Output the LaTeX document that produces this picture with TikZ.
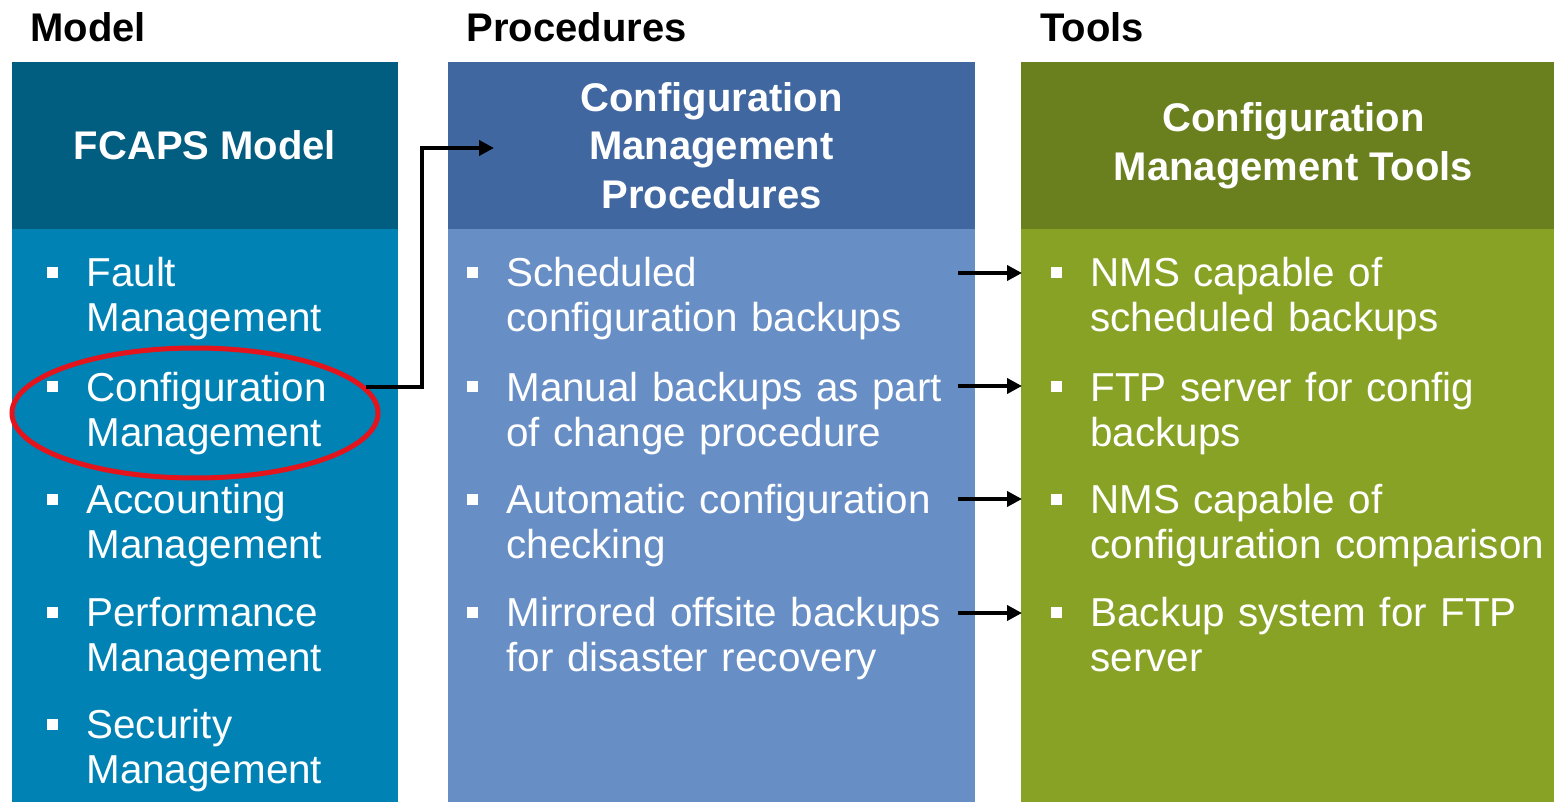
\documentclass[tikz,border=0pt]{standalone}
\usepackage{fontspec}
\setmainfont{Liberation Sans}
\usetikzlibrary{arrows.meta,shapes.geometric}
\definecolor{cOneH}{HTML}{025E80}
\definecolor{cOneB}{HTML}{0082B5}
\definecolor{cTwoH}{HTML}{4167A1}
\definecolor{cTwoB}{HTML}{688EC6}
\definecolor{cThrH}{HTML}{6A801E}
\definecolor{cThrB}{HTML}{88A226}
\definecolor{hlred}{HTML}{E3141C}
\begin{document}
\begin{tikzpicture}[x=0.5pt,y=-0.5pt,
  panel/.style={inner sep=0, outer sep=0, anchor=north west},
  hdr/.style={inner sep=0, outer sep=0, text=white, font=\bfseries\fontsize{20}{24.25}\selectfont, align=center},
  item/.style={anchor=base west, inner sep=0, text=white, text width=240pt, align=left, font=\fontsize{20.2}{22.5}\selectfont},
  bul/.style={fill=white, minimum size=5.5pt, inner sep=0},
  title/.style={anchor=base west, inner sep=0, font=\bfseries\fontsize{20}{24}\selectfont},
  arr/.style={line width=2pt, -{Triangle[length=7.5pt,width=7.5pt]}}]
\useasboundingbox (0,0) rectangle (1554,802);
\fill[white] (0,0) rectangle (1554,802);
% titles
\node[title] (t1) at (30,42) {Model};
\node[title] (t2) at (466,42) {Procedures};
\node[title] (t3) at (1040,42) {Tools};
% panels
\node[panel, fill=cOneB, minimum width=193pt, minimum height=286.5pt] (b1) at (12,229) {};
\node[panel, fill=cTwoB, minimum width=263.5pt, minimum height=286.5pt] (b2) at (448,229) {};
\node[panel, fill=cThrB, minimum width=266.5pt, minimum height=286.5pt] (b3) at (1021,229) {};
\node[hdr, fill=cOneH, minimum width=193pt, minimum height=83.5pt] (h1) at (205,145.5) {FCAPS Model};
\node[hdr, fill=cTwoH, minimum width=263.5pt, minimum height=83.5pt] (h2) at (711.5,145.5) {Configuration\\Management\\Procedures};
\node[hdr, fill=cThrH, minimum width=266.5pt, minimum height=83.5pt] (h3) at (1287.5,145.5) {\hspace*{6pt}Configuration\\\hspace*{6pt}Management Tools};
% column 1 items
\node[bul] (m1b) at (52,273) {};
\node[item] (m1) at (86,287) {Fault\\Management};
\node[bul] (m2b) at (52,387) {};
\node[item] (m2) at (86,401) {Configuration\\Management};
\node[bul] (m3b) at (52,499) {};
\node[item] (m3) at (86,513) {Accounting\\Management};
\node[bul] (m4b) at (52,612) {};
\node[item] (m4) at (86,626) {Performance\\Management};
\node[bul] (m5b) at (52,724) {};
\node[item] (m5) at (86,738) {Security\\Management};
% column 2 items
\node[bul] (p1b) at (472,273) {};
\node[item] (p1) at (506,287) {Scheduled\\configuration backups};
\node[bul] (p2b) at (472,387) {};
\node[item] (p2) at (506,401) {Manual backups as part\\of change procedure};
\node[bul] (p3b) at (472,499) {};
\node[item] (p3) at (506,513) {Automatic configuration\\checking};
\node[bul] (p4b) at (472,612) {};
\node[item] (p4) at (506,626) {Mirrored offsite backups\\for disaster recovery};
% column 3 items
\node[bul] (k1b) at (1056,273) {};
\node[item] (k1) at (1090,287) {NMS capable of\\scheduled backups};
\node[bul] (k2b) at (1056,387) {};
\node[item] (k2) at (1090,401) {FTP server for config\\backups};
\node[bul] (k3b) at (1056,499) {};
\node[item] (k3) at (1090,513) {NMS capable of\\configuration comparison};
\node[bul] (k4b) at (1056,612) {};
\node[item] (k4) at (1090,626) {Backup system for FTP\\server};
% highlight ellipse
\node[ellipse, draw=hlred, line width=2.5pt, minimum width=183pt, minimum height=65pt, inner sep=0] (hl) at (195,413) {};
% connector coordinates
\coordinate (e0) at (366,387);
\coordinate (e1) at (494,148);
\coordinate (a1) at (958,273); \coordinate (z1) at (1022,273);
\coordinate (a2) at (958,386); \coordinate (z2) at (1022,386);
\coordinate (a3) at (958,499); \coordinate (z3) at (1022,499);
\coordinate (a4) at (958,613); \coordinate (z4) at (1022,613);
\draw[arr] (e0) -- (422,387) |- (e1);
\draw[arr] (a1) -- (z1);
\draw[arr] (a2) -- (z2);
\draw[arr] (a3) -- (z3);
\draw[arr] (a4) -- (z4);
\end{tikzpicture}
\end{document}
